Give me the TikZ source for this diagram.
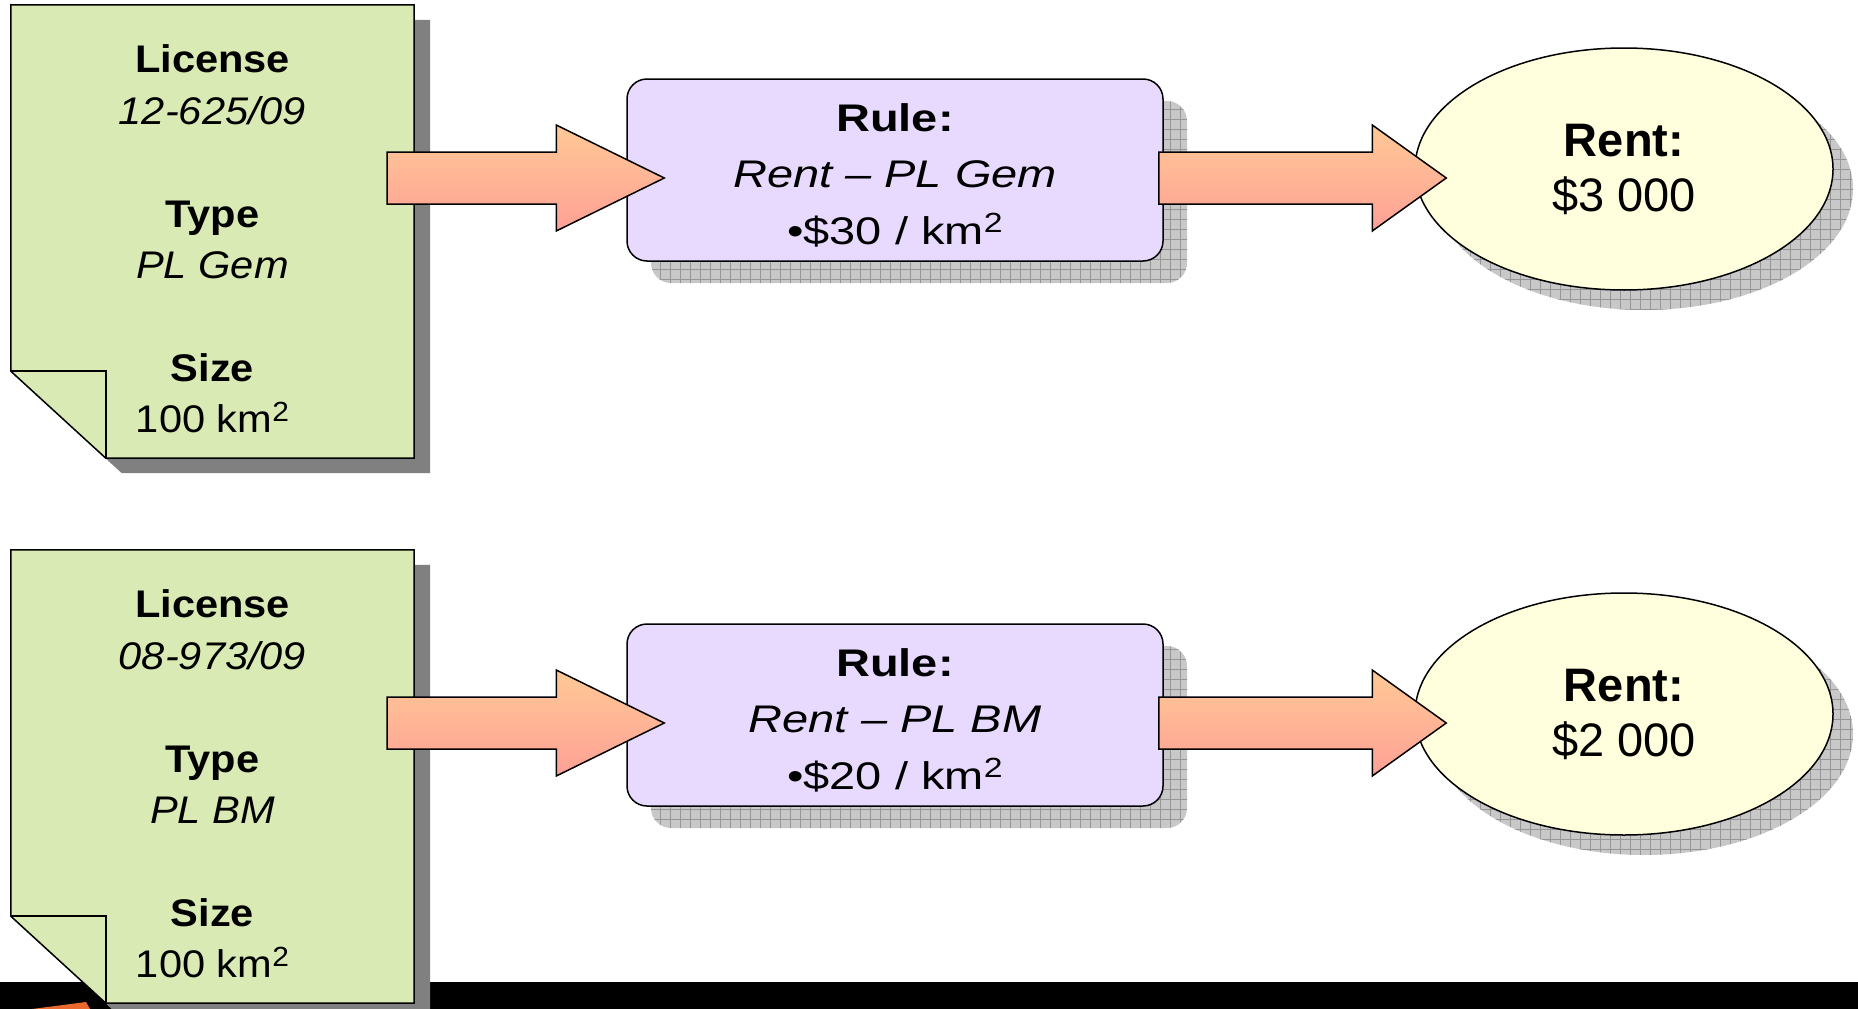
\documentclass[tikz,border=0pt]{standalone}
\usepackage{fontspec}
\setmainfont{Liberation Sans}
\newfontfamily\docfont[FakeStretch=1.08]{Liberation Sans}
\newfontfamily\rulefont[FakeStretch=1.22]{Liberation Sans}
\usetikzlibrary{calc,shapes.geometric,shadows,patterns.meta}
\definecolor{docgreen}{RGB}{217,234,180}
\definecolor{docshadow}{RGB}{128,128,128}
\definecolor{rulefill}{RGB}{232,218,255}
\definecolor{rentfill}{RGB}{255,255,221}
\definecolor{arrowtop}{RGB}{255,201,150}
\definecolor{arrowbot}{RGB}{255,160,150}
\definecolor{shadowbg}{RGB}{200,200,200}
\definecolor{shadowline}{RGB}{150,150,150}
\definecolor{sliver}{RGB}{235,105,45}
\newcommand{\sqtwo}{\raisebox{0.3em}{\scalebox{0.72}{2}}}
\begin{document}
\begin{tikzpicture}[
        x=1pt, y=-1pt,
        docbox/.style={shape=rectangle, minimum width=403, minimum height=453, inner sep=0},
        docshape/.style={draw, line width=1.5pt, fill=docgreen},
        doctext/.style={align=center, font=\docfont\fontsize{38.5}{51.4}\selectfont},
        rulebox/.style={
            shape=rectangle, rounded corners=20, draw, line width=1.5pt,
            fill=rulefill, minimum width=536, minimum height=182,
            general shadow={fill=shadowbg, shadow xshift=24pt, shadow yshift=-22pt},
            general shadow={pattern={Hatch[angle=0,distance=10pt,line width=0.8pt]},
                pattern color=shadowline, shadow xshift=24pt, shadow yshift=-22pt}
        },
        ruletext/.style={align=center, font=\rulefont\fontsize{38.5}{56.5}\selectfont},
        rentbox/.style={
            shape=ellipse, draw, line width=1.5pt, fill=rentfill, inner sep=0,
            minimum width=418, minimum height=242, align=center,
            font=\fontsize{47}{55}\selectfont,
            general shadow={fill=shadowbg, shadow xshift=20pt, shadow yshift=-20pt},
            general shadow={pattern={Hatch[angle=0,distance=10pt,line width=0.8pt]},
                pattern color=shadowline, shadow xshift=20pt, shadow yshift=-20pt}
        },
        blockarrow/.style={
            draw, line width=1.5pt, top color=arrowtop, bottom color=arrowbot,
            to path={
                ($(\tikztostart)+(0,-26)$) -- ($(\tikztotarget)+(-#1,-26)$)
                -- ($(\tikztotarget)+(-#1,-53)$) -- (\tikztotarget)
                -- ($(\tikztotarget)+(-#1,53)$) -- ($(\tikztotarget)+(-#1,26)$)
                -- ($(\tikztostart)+(0,26)$) -- cycle
            }
        }
    ]
    \useasboundingbox (0,0) rectangle (1858,1009);

    % FAIXA
    \fill[black] (0,982) rectangle (1858,1009);
    \fill[sliver] (32,1009) -- (86,1002) -- (90,1009) -- cycle;

    % LINHA 1
    \node[docbox] (doc1) at (212.5,231.5) {};
    \fill[docshadow, transform canvas={xshift=16pt, yshift=-15pt}]
        (doc1.north west) -- (doc1.north east) -- (doc1.south east)
        -- ([xshift=95]doc1.south west) -- ([yshift=87]doc1.south west) -- cycle;
    \draw[docshape] (doc1.north west) -- (doc1.north east) -- (doc1.south east)
        -- ([xshift=95]doc1.south west) -- ([yshift=87]doc1.south west) -- cycle;
    \draw[line width=1.5pt] ([yshift=87]doc1.south west) -- ([xshift=95,yshift=87]doc1.south west)
        -- ([xshift=95]doc1.south west);
    \node[doctext] (lic1) at (212.5,239) {{\bfseries License}\\ \textit{12-625/09}\\[51.4pt]
        {\bfseries Type}\\ \textit{PL Gem}\\[51.4pt] {\bfseries Size}\\ 100 km\sqtwo};

    \node[rulebox] (rule1) at (895,170) {};
    \node[ruletext] (rule1t) at (895,175) {{\bfseries Rule:}\\ \textit{Rent – PL Gem}\\ •\$30 / km\sqtwo};

    \node[rentbox] (rent1) at (1624,169) {{\bfseries Rent:}\\ \$3 000};

    \coordinate (tail1) at ($(doc1.east)+(-27,-53.5)$);
    \coordinate (tip1) at ($(rule1.west)+(38,8)$);
    \coordinate (tail2) at ($(rule1.east)+(-5,8)$);
    \coordinate (tip2) at ($(rent1.west)+(32,9)$);
    \draw[blockarrow=108] (tail1) to (tip1);
    \draw[blockarrow=74] (tail2) to (tip2);

    % LINHA 2
    \node[docbox] (doc2) at (212.5,776.5) {};
    \fill[docshadow, transform canvas={xshift=16pt, yshift=-15pt}]
        (doc2.north west) -- (doc2.north east) -- (doc2.south east)
        -- ([xshift=95]doc2.south west) -- ([yshift=87]doc2.south west) -- cycle;
    \draw[docshape] (doc2.north west) -- (doc2.north east) -- (doc2.south east)
        -- ([xshift=95]doc2.south west) -- ([yshift=87]doc2.south west) -- cycle;
    \draw[line width=1.5pt] ([yshift=87]doc2.south west) -- ([xshift=95,yshift=87]doc2.south west)
        -- ([xshift=95]doc2.south west);
    \node[doctext] (lic2) at (212.5,784) {{\bfseries License}\\ \textit{08-973/09}\\[51.4pt]
        {\bfseries Type}\\ \textit{PL BM}\\[51.4pt] {\bfseries Size}\\ 100 km\sqtwo};

    \node[rulebox] (rule2) at (895,715) {};
    \node[ruletext] (rule2t) at (895,720) {{\bfseries Rule:}\\ \textit{Rent – PL BM}\\ •\$20 / km\sqtwo};

    \node[rentbox] (rent2) at (1624,714) {{\bfseries Rent:}\\ \$2 000};

    \coordinate (tail3) at ($(doc2.east)+(-27,-53.5)$);
    \coordinate (tip3) at ($(rule2.west)+(38,8)$);
    \coordinate (tail4) at ($(rule2.east)+(-5,8)$);
    \coordinate (tip4) at ($(rent2.west)+(32,9)$);
    \draw[blockarrow=108] (tail3) to (tip3);
    \draw[blockarrow=74] (tail4) to (tip4);
\end{tikzpicture}
\end{document}
